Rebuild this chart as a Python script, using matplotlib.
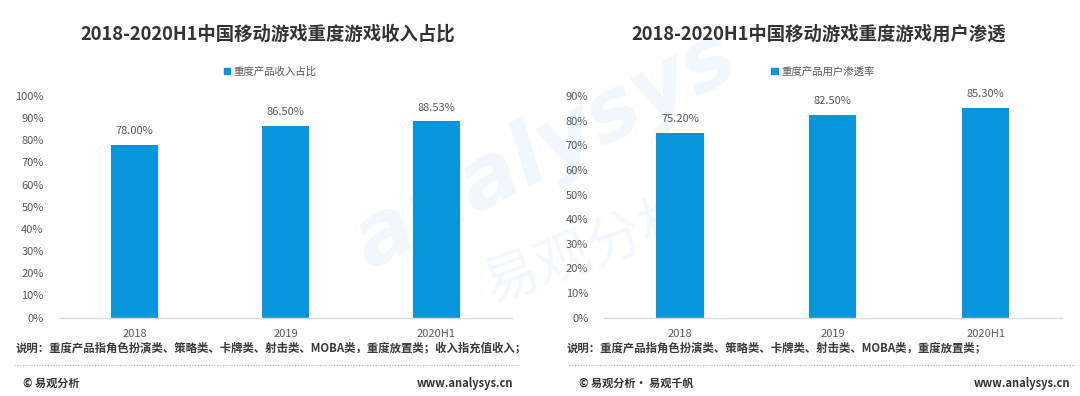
import matplotlib
matplotlib.use("Agg")
import matplotlib.pyplot as plt
from matplotlib.patches import Patch

plt.rcParams['font.family'] = ['Noto Sans CJK SC', 'DejaVu Sans']

categories = ['2018', '2019', '2020H1']
revenue_share = [78.00, 86.50, 88.53]
penetration = [75.20, 82.50, 85.30]
left_ticks = [0, 10, 20, 30, 40, 50, 60, 70, 80, 90, 100]
right_ticks = [0, 10, 20, 30, 40, 50, 60, 70, 80, 90]

title_left = '2018-2020H1中国移动游戏重度游戏收入占比'
title_right = '2018-2020H1中国移动游戏重度游戏用户渗透'
legend_left = '重度产品收入占比'
legend_right = '重度产品用户渗透率'
note_left = '说明：重度产品指角色扮演类、策略类、卡牌类、射击类、MOBA类，重度放置类；收入指充值收入；'
note_right = '说明：重度产品指角色扮演类、策略类、卡牌类、射击类、MOBA类，重度放置类；'
footer_left = '© 易观分析'
footer_right = '© 易观分析· 易观千帆'
site = 'www.analysys.cn'

W, H = 1080, 396
BAR = '#0795db'
TXT = '#595959'
DARK = '#333333'

fig = plt.figure(figsize=(W / 100, H / 100), dpi=100)


def rect(l, r, top, bottom):
    return [l / W, 1 - bottom / H, (r - l) / W, (bottom - top) / H]


def fx(x):
    return x / W


def fy(y):
    return 1 - y / H


# faint watermark
fig.text(fx(545), fy(150), 'analysys', rotation=28, fontsize=62, color='#f1f7fc',
         style='italic', weight='bold', ha='center', va='center', zorder=-2,
         family='DejaVu Sans')
fig.text(fx(590), fy(250), '易观分析', rotation=20, fontsize=40, color='#f2f8fd',
         ha='center', va='center', zorder=-2)


def panel(rc, values, ymax, ticks, title, tx, leg, lx, note, nx, foot, fxl, site_r, dot_l, dot_r):
    ax = fig.add_axes(rc)
    ax.patch.set_alpha(0)
    x = range(len(categories))
    bars = ax.bar(x, values, width=0.31, color=BAR, zorder=2)
    ax.set_xlim(-0.5, len(categories) - 0.5)
    ax.set_ylim(0, ymax)
    ax.set_yticks(ticks)
    ax.set_yticklabels([f'{t}%' for t in ticks])
    ax.set_xticks(list(x))
    ax.set_xticklabels(categories)
    ax.tick_params(axis='both', length=0, labelsize=8, colors=TXT)
    ax.tick_params(axis='y', pad=11)
    ax.tick_params(axis='x', pad=8)
    for s in ['top', 'right', 'left']:
        ax.spines[s].set_visible(False)
    ax.spines['bottom'].set_color('#dcdcdc')
    ax.spines['bottom'].set_linewidth(1.0)
    for b, v in zip(bars, values):
        ax.annotate(f'{v:.2f}%', (b.get_x() + b.get_width() / 2, v),
                    xytext=(0, 10), textcoords='offset points',
                    ha='center', va='center', fontsize=8, color=TXT)
    fig.text(fx(tx), fy(34), title, ha='center', va='center', fontsize=13.2,
             weight='bold', color=DARK)
    fig.legend(handles=[Patch(color=BAR, label=leg)], loc='center',
               bbox_to_anchor=(fx(lx), fy(71.5)), frameon=False, fontsize=7.5,
               handlelength=0.6, handleheight=0.6, handletextpad=0.35,
               labelcolor=TXT)
    fig.text(fx(nx), fy(347.5), note, ha='left', va='center', fontsize=8.2,
             color='#3a3a3a', weight='bold')
    fig.add_artist(plt.Line2D([fx(dot_l), fx(dot_r)], [fy(365), fy(365)],
                              color='#b0b0b0', lw=0.8, linestyle=(0, (1, 1.5))))
    fig.text(fx(fxl), fy(383.5), foot, ha='left', va='center', fontsize=8,
             color=DARK, weight='bold')
    fig.text(fx(site_r), fy(383.5), site, ha='right', va='center', fontsize=8,
             color=DARK, weight='bold')
    return ax


panel(rect(59, 512, 96, 317.5), revenue_share, 100, left_ticks, title_left, 268,
      legend_left, 270, note_left, 16, footer_left, 23, 513, 14, 518)
panel(rect(603.6, 1062, 96.2, 317.5), penetration, 90, right_ticks, title_right, 819,
      legend_right, 823, note_right, 567, footer_right, 579, 1070, 569, 1075)

fig.savefig('out.png', dpi=100)
